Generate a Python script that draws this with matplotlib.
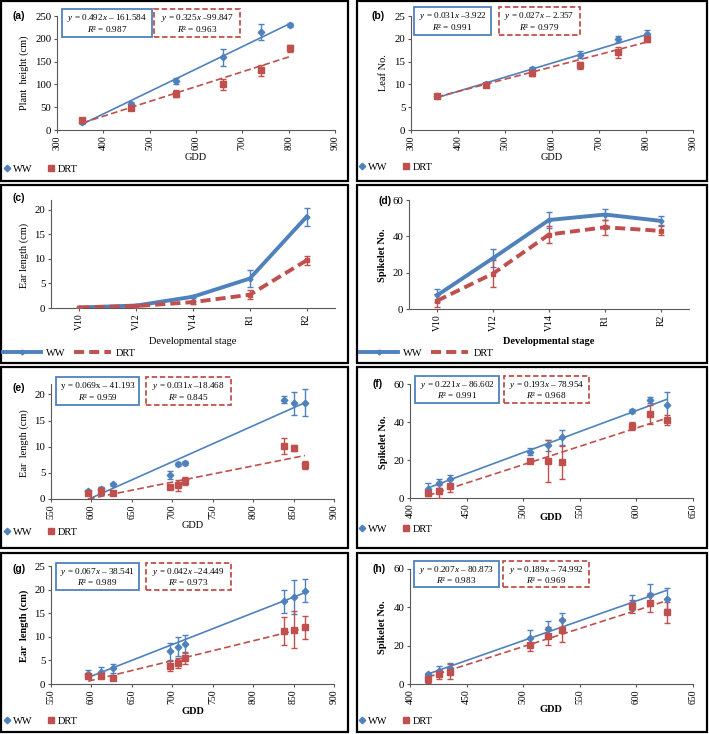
import numpy as np
import matplotlib
matplotlib.use("Agg")
import matplotlib.pyplot as plt
from matplotlib.lines import Line2D
from matplotlib.patches import Rectangle

plt.rcParams["font.family"] = ["Liberation Serif", "DejaVu Serif"]
plt.rcParams["mathtext.fontset"] = "custom"
plt.rcParams["mathtext.rm"] = "Liberation Serif"
plt.rcParams["mathtext.it"] = "Liberation Serif:italic"

WW_COLOR = "#4F81BD"
DRT_COLOR = "#C0504D"
AXIS_COLOR = "#595959"

# ---- data ----
# (a) plant height vs GDD
gdd_ab = [355, 460, 557, 659, 740, 803]
height_ww = [17, 57, 108, 159, 215, 230]
height_ww_err = [3, 5, 7, 18, 18, 4]
height_drt = [21, 48, 80, 100, 131, 179]
height_drt_err = [3, 5, 8, 12, 12, 8]
height_fit_ww = [0.492, -161.584]
height_fit_drt = [0.325, -99.847]

# (b) leaf number vs GDD
leaf_ww = [7.5, 10.0, 13.3, 16.5, 20.0, 21.0]
leaf_ww_err = [0.5, 0.3, 0.5, 0.8, 0.7, 0.9]
leaf_drt = [7.5, 9.8, 12.4, 14.2, 17.0, 20.0]
leaf_drt_err = [0.5, 0.3, 0.5, 0.8, 1.3, 0.8]
leaf_fit_ww = [0.031, -3.922]
leaf_fit_drt = [0.027, -2.357]

# (c), (d) developmental stages
stages = ["V10", "V12", "V14", "R1", "R2"]
ear_stage_ww = [0.1, 0.5, 2.3, 6.0, 18.6]
ear_stage_ww_err = [0.0, 0.1, 0.3, 1.8, 1.8]
ear_stage_drt = [0.1, 0.4, 1.2, 2.7, 9.7]
ear_stage_drt_err = [0.0, 0.1, 0.3, 0.9, 0.9]
spk_stage_ww = [7.5, 28.0, 49.0, 52.0, 48.5]
spk_stage_ww_err = [3.5, 5.0, 4.5, 3.0, 2.5]
spk_stage_drt = [4.5, 19.5, 41.0, 45.0, 43.0]
spk_stage_drt_err = [3.5, 7.5, 4.5, 4.0, 2.5]

# (e), (g) ear length vs GDD
gdd_eg = [596, 612, 627, 697, 707, 716, 838, 851, 864]
ear_e_ww = [1.5, 2.0, 2.8, 4.6, 6.7, 6.9, 19.0, 18.3, 18.4]
ear_e_ww_err = [0.2, 0.3, 0.3, 0.8, 0.4, 0.3, 0.7, 2.2, 2.6]
ear_e_drt = [1.2, 1.5, 1.1, 2.3, 2.6, 3.5, 10.1, 9.7, 6.5]
ear_e_drt_err = [0.3, 0.8, 0.2, 0.2, 1.0, 0.8, 1.5, 0.6, 0.7]
ear_e_fit_ww = [0.069, -41.193]
ear_e_fit_drt = [0.031, -18.468]

ear_g_ww = [2.1, 2.6, 3.3, 6.9, 7.9, 8.4, 17.5, 18.4, 19.8]
ear_g_ww_err = [0.8, 0.9, 1.0, 1.8, 2.0, 1.9, 2.5, 3.6, 2.5]
ear_g_drt = [1.7, 1.8, 1.3, 3.8, 4.5, 5.5, 11.2, 11.5, 12.0]
ear_g_drt_err = [0.5, 0.5, 0.5, 1.1, 1.1, 1.2, 2.9, 3.9, 2.4]
ear_g_fit_ww = [0.067, -38.541]
ear_g_fit_drt = [0.042, -24.449]

# (f), (h) spikelet number vs GDD
gdd_fh = [416, 426, 435, 506, 522, 534, 596, 612, 627]
spk_f_ww = [4.7, 7.7, 9.8, 24.4, 27.7, 32.0, 46.0, 51.5, 49.0]
spk_f_ww_err = [3.0, 2.5, 2.5, 2.0, 3.0, 4.0, 1.0, 1.5, 7.0]
spk_f_drt = [2.8, 3.5, 6.4, 19.7, 19.5, 18.7, 38.0, 44.0, 41.0]
spk_f_drt_err = [1.5, 3.5, 3.5, 0.8, 11.0, 8.5, 2.0, 5.0, 2.5]
spk_f_fit_ww = [0.221, -86.602]
spk_f_fit_drt = [0.193, -78.954]

spk_h_ww = [5.0, 7.0, 8.5, 24.0, 28.5, 33.5, 42.5, 46.5, 44.5]
spk_h_ww_err = [1.0, 2.5, 2.5, 4.0, 4.5, 3.5, 4.0, 5.5, 5.5]
spk_h_drt = [2.5, 5.0, 6.5, 20.5, 25.0, 28.0, 40.5, 42.5, 37.5]
spk_h_drt_err = [2.0, 2.5, 4.0, 3.5, 4.5, 6.0, 3.5, 5.0, 5.5]
spk_h_fit_ww = [0.207, -80.873]
spk_h_fit_drt = [0.189, -74.992]

W, H = 709, 734
fig = plt.figure(figsize=(W / 100, H / 100), dpi=100)


def fx(px):
    return px / W


def fy(py):
    return 1 - py / H


def axes_px(left, top, right, bottom):
    return fig.add_axes([fx(left), fy(bottom), (right - left) / W, (bottom - top) / H])


def frame_px(left, top, right, bottom):
    fig.patches.append(Rectangle((fx(left), fy(bottom)), (right - left) / W,
                                 (bottom - top) / H, transform=fig.transFigure,
                                 fill=False, ec="black", lw=1.6))


def style_axes(ax):
    for side in ("top", "right"):
        ax.spines[side].set_visible(False)
    for side in ("left", "bottom"):
        ax.spines[side].set_color(AXIS_COLOR)
        ax.spines[side].set_linewidth(0.8)
    ax.tick_params(direction="out", length=2.5, width=0.8, color=AXIS_COLOR,
                   labelsize=7, pad=1.5)
    ax.tick_params(axis="y", labelsize=7.8)
    ax.tick_params(axis="x", labelrotation=90)


def eq_box(left, top, right, bottom, line1, line2, color, dashed):
    fig.patches.append(Rectangle((fx(left), fy(bottom)), (right - left) / W,
                                 (bottom - top) / H, transform=fig.transFigure,
                                 fill=False, ec=color, lw=1.3,
                                 ls=(0, (3, 1.5)) if dashed else "-"))
    cx = (left + right) / 2
    fig.text(fx(cx), fy(top + (bottom - top) * 0.33), line1, fontsize=6.6,
             ha="center", va="center")
    fig.text(fx(cx), fy(top + (bottom - top) * 0.72), line2, fontsize=6.6,
             ha="center", va="center")


def scatter_panel(ax, x, ww, ww_err, drt, drt_err, fit_ww, fit_drt):
    ax.errorbar(x, ww, yerr=ww_err, fmt="D", ms=3.3, color=WW_COLOR,
                elinewidth=1, capsize=2.5, capthick=1, zorder=3)
    ax.errorbar(x, drt, yerr=drt_err, fmt="s", ms=4.2, color=DRT_COLOR,
                elinewidth=1, capsize=2.5, capthick=1, zorder=3)
    xs = np.array([min(x), max(x)])
    ax.plot(xs, fit_ww[0] * xs + fit_ww[1], color=WW_COLOR, lw=1.2, zorder=2)
    ax.plot(xs, fit_drt[0] * xs + fit_drt[1], color=DRT_COLOR, lw=1.2,
            ls=(0, (4, 2)), zorder=2)
    style_axes(ax)


def stage_panel(ax, ww, ww_err, drt, drt_err):
    pos = np.arange(len(stages))
    ax.errorbar(pos, ww, yerr=ww_err, color=WW_COLOR, lw=2.8, marker="D",
                ms=2.5, elinewidth=1, capsize=2.5, capthick=1, zorder=3)
    ax.errorbar(pos, drt, yerr=drt_err, color=DRT_COLOR, lw=2.8,
                dashes=(2.6, 1.3), marker="s", ms=2.5, elinewidth=1,
                capsize=2.5, capthick=1, zorder=3)
    ax.set_xlim(-0.5, len(stages) - 0.5)
    ax.set_xticks(pos)
    ax.set_xticklabels(stages)
    style_axes(ax)


def scatter_legend(x, y):
    handles = [Line2D([], [], ls="none", marker="D", ms=3.3, color=WW_COLOR),
               Line2D([], [], ls="none", marker="s", ms=4.5, color=DRT_COLOR)]
    fig.legend(handles, ["WW", "DRT"], loc="center left",
               bbox_to_anchor=(fx(x), fy(y)), frameon=False, ncol=2,
               fontsize=7.5, handlelength=0.7, handletextpad=0.3,
               columnspacing=1.4, borderaxespad=0, borderpad=0)


def line_legend(x, y):
    handles = [Line2D([], [], color=WW_COLOR, lw=2.8, marker="D", ms=2.5),
               Line2D([], [], color=DRT_COLOR, lw=2.8, dashes=(2.6, 1.3))]
    fig.legend(handles, ["WW", "DRT"], loc="center left",
               bbox_to_anchor=(fx(x), fy(y)), frameon=False, ncol=2,
               fontsize=7.5, handlelength=3.6, handletextpad=0.5,
               columnspacing=0.8, borderaxespad=0, borderpad=0)


def labels(tag, tag_xy, xlabel, xlabel_xy, ylabel, ylabel_xy, bold):
    weight = "bold" if bold else "normal"
    fig.text(fx(tag_xy[0]), fy(tag_xy[1]), tag, family="Liberation Sans",
             weight="bold", fontsize=7.5, va="center")
    fig.text(fx(xlabel_xy[0]), fy(xlabel_xy[1]), xlabel, fontsize=7.5,
             ha="center", va="center", weight=weight)
    fig.text(fx(ylabel_xy[0]), fy(ylabel_xy[1]), ylabel, fontsize=7.5,
             ha="center", va="center", rotation=90, weight=weight)


# panel frames
frame_px(1, 1, 348, 181)
frame_px(357, 1, 707, 181)
frame_px(1, 185, 348, 363)
frame_px(357, 185, 707, 363)
frame_px(1, 367, 348, 548)
frame_px(357, 367, 707, 548)
frame_px(1, 553, 348, 732)
frame_px(357, 553, 707, 732)

# (a)
ax = axes_px(57, 16, 335, 130)
scatter_panel(ax, gdd_ab, height_ww, height_ww_err, height_drt, height_drt_err,
              height_fit_ww, height_fit_drt)
ax.set_xlim(300, 900)
ax.set_ylim(0, 250)
ax.set_yticks(range(0, 251, 50))
eq_box(62, 9, 152, 37, r"$y$ = 0.492$x$ – 161.584", r"$R$² = 0.987", WW_COLOR, False)
eq_box(154, 9, 240, 37, r"$y$ = 0.325$x$ –99.847", r"$R$² = 0.963", DRT_COLOR, True)
labels("(a)", (12, 16), "GDD", (196, 158), "Plant  height (cm)", (24, 73), False)
scatter_legend(3, 169)

# (b)
ax = axes_px(411, 16, 693, 130)
scatter_panel(ax, gdd_ab, leaf_ww, leaf_ww_err, leaf_drt, leaf_drt_err,
              leaf_fit_ww, leaf_fit_drt)
ax.set_xlim(300, 900)
ax.set_ylim(0, 25)
ax.set_yticks(range(0, 26, 5))
eq_box(414, 7, 491, 35, r"$y$ = 0.031$x$ –3.922", r"$R$² = 0.991", WW_COLOR, False)
eq_box(499, 7, 580, 35, r"$y$ = 0.027$x$ – 2.357", r"$R$² = 0.979", DRT_COLOR, True)
labels("(b)", (371, 16), "GDD", (552, 157), "Leaf No.", (383, 73), False)
scatter_legend(358, 167)

# (c)
ax = axes_px(51, 200, 335, 308)
stage_panel(ax, ear_stage_ww, ear_stage_ww_err, ear_stage_drt, ear_stage_drt_err)
ax.set_ylim(0, 22)
ax.set_yticks(range(0, 21, 5))
labels("(c)", (12, 198), "Developmental stage", (193, 341), "Ear length (cm)",
       (24, 255), False)
line_legend(3, 353)

# (d)
ax = axes_px(409, 200, 689, 309)
stage_panel(ax, spk_stage_ww, spk_stage_ww_err, spk_stage_drt, spk_stage_drt_err)
ax.set_ylim(0, 60)
ax.set_yticks(range(0, 61, 20))
labels("(d)", (379, 201), "Developmental stage", (549, 342), "Spikelet No.",
       (382, 255), True)
line_legend(360, 353)

# (e)
ax = axes_px(51, 384, 334, 499)
scatter_panel(ax, gdd_eg, ear_e_ww, ear_e_ww_err, ear_e_drt, ear_e_drt_err,
              ear_e_fit_ww, ear_e_fit_drt)
ax.set_xlim(550, 900)
ax.set_ylim(0, 22)
ax.set_yticks(range(0, 21, 5))
ax.set_xticks(range(550, 901, 50))
eq_box(56, 377, 139, 405, "y = 0.069x – 41.193", r"$R$² = 0.959", WW_COLOR, False)
eq_box(146, 377, 231, 405, r"$y$ = 0.031$x$ –18.468", r"$R$² = 0.845", DRT_COLOR, True)
labels("(e)", (12, 388), "GDD", (193, 526), "Ear  length (cm)", (24, 443), False)
scatter_legend(3, 532)

# (f)
ax = axes_px(410, 384, 693, 498)
scatter_panel(ax, gdd_fh, spk_f_ww, spk_f_ww_err, spk_f_drt, spk_f_drt_err,
              spk_f_fit_ww, spk_f_fit_drt)
ax.set_xlim(400, 650)
ax.set_ylim(0, 60)
ax.set_yticks(range(0, 61, 20))
ax.set_xticks(range(400, 651, 50))
eq_box(415, 376, 499, 403, r"$y$ = 0.221$x$ – 86.602", r"$R$² = 0.991", WW_COLOR, False)
eq_box(504, 376, 589, 403, r"$y$ = 0.193$x$ – 78.954", r"$R$² = 0.968", DRT_COLOR, True)
labels("(f)", (373, 384), "GDD", (551, 518), "Spikelet No.", (383, 442), True)
scatter_legend(358, 529)

# (g)
ax = axes_px(51, 566, 334, 684)
scatter_panel(ax, gdd_eg, ear_g_ww, ear_g_ww_err, ear_g_drt, ear_g_drt_err,
              ear_g_fit_ww, ear_g_fit_drt)
ax.set_xlim(550, 900)
ax.set_ylim(0, 25)
ax.set_yticks(range(0, 26, 5))
ax.set_xticks(range(550, 901, 50))
eq_box(56, 563, 139, 590, r"$y$ = 0.067$x$ – 38.541", r"$R$² = 0.989", WW_COLOR, False)
eq_box(146, 563, 231, 590, r"$y$ = 0.042$x$ –24.449", r"$R$² = 0.973", DRT_COLOR, True)
labels("(g)", (12, 569), "GDD", (193, 711), "Ear  length (cm)", (24, 626), True)
scatter_legend(3, 721)

# (h)
ax = axes_px(410, 569, 693, 684)
scatter_panel(ax, gdd_fh, spk_h_ww, spk_h_ww_err, spk_h_drt, spk_h_drt_err,
              spk_h_fit_ww, spk_h_fit_drt)
ax.set_xlim(400, 650)
ax.set_ylim(0, 60)
ax.set_yticks(range(0, 61, 20))
ax.set_xticks(range(400, 651, 50))
eq_box(414, 561, 499, 587, r"$y$ = 0.207$x$ – 80.873", r"$R$² = 0.983", WW_COLOR, False)
eq_box(503, 561, 589, 587, r"$y$ = 0.189$x$ – 74.992", r"$R$² = 0.969", DRT_COLOR, True)
labels("(h)", (373, 569), "GDD", (551, 710), "Spikelet No.", (382, 627), True)
scatter_legend(358, 721)

fig.savefig("out.png", dpi=100)
plt.close(fig)
